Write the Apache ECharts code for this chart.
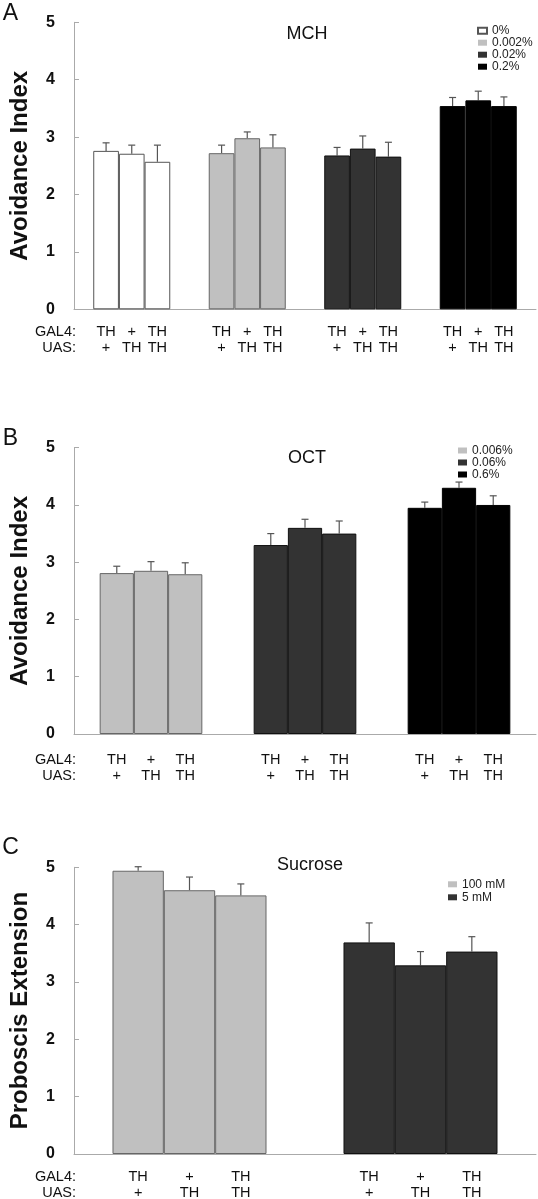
<!DOCTYPE html>
<html>
<head>
<meta charset="utf-8">
<script src="https://cdn.jsdelivr.net/npm/echarts@6/dist/echarts.min.js"></script>
<style>
html,body{margin:0;padding:0;background:#fff;}
#chart{width:538px;height:1199px;}
</style>
</head>
<body>
<div id="chart"></div>
<script>
// ---------- DATA ----------
const genotypeNames = ['TH>+', '+>TH', 'TH>TH'];
const genotypeLabels = ['TH\n+', '+\nTH', 'TH\nTH'];

// Panel A: MCH
const mchConc = ['0%', '0.002%', '0.02%', '0.2%'];
const mchMean = [
  [2.76, 2.72, 2.68, 3.54],
  [2.71, 2.98, 2.80, 3.64],
  [2.57, 2.82, 2.66, 3.54]
];
const mchSem = [
  [0.14, 0.14, 0.14, 0.15],
  [0.15, 0.11, 0.22, 0.16],
  [0.29, 0.22, 0.25, 0.16]
];

// Panel B: OCT
const octConc = ['0.006%', '0.06%', '0.6%'];
const octMean = [
  [2.81, 3.30, 3.95],
  [2.85, 3.60, 4.30],
  [2.79, 3.50, 4.00]
];
const octSem = [
  [0.12, 0.20, 0.10],
  [0.16, 0.15, 0.10],
  [0.20, 0.22, 0.16]
];

// Panel C: Sucrose
const sucConc = ['100 mM', '5 mM'];
const sucMean = [
  [4.94, 3.69],
  [4.60, 3.29],
  [4.51, 3.53]
];
const sucSem = [
  [0.07, 0.34],
  [0.23, 0.24],
  [0.20, 0.26]
];

const yTicks = [0, 1, 2, 3, 4, 5];

// ---------- STYLE ----------
const FONT = "'Liberation Sans', Arial, Helvetica, sans-serif";
const AXIS_COLOR = '#aaaaaa';
const FILL = { '0%': '#ffffff', '0.002%': '#c0c0c0', '0.02%': '#333333', '0.2%': '#000000',
  '0.006%': '#c0c0c0', '0.06%': '#333333', '0.6%': '#000000', '100 mM': '#c0c0c0', '5 mM': '#333333' };
const BORDER = { '#ffffff': '#555555', '#c0c0c0': '#666666', '#333333': '#111111', '#000000': '#000000' };

const grids = [
  { left: 74, right: 2, top: 22.3, height: 287 },
  { left: 74, right: 2, top: 447.7, height: 286.3 },
  { left: 74, right: 2, top: 867.3, height: 286.7 }
];

const panels = [
  { conc: mchConc, mean: mchMean, sem: mchSem, name: 'Avoidance Index', labelDist: 15 },
  { conc: octConc, mean: octMean, sem: octSem, name: 'Avoidance Index', labelDist: 18 },
  { conc: sucConc, mean: sucMean, sem: sucSem, name: 'Proboscis Extension', labelDist: 14.7 }
];

const xAxes = [], yAxes = [], series = [];

panels.forEach((p, gi) => {
  xAxes.push({
    type: 'category', gridIndex: gi, data: p.conc,
    axisLine: { lineStyle: { color: AXIS_COLOR, width: 1 } },
    axisTick: { inside: true, length: 5, lineStyle: { color: AXIS_COLOR } },
    axisLabel: { show: false },
    splitLine: { show: false }
  });
  yAxes.push({
    type: 'value', gridIndex: gi, min: yTicks[0], max: yTicks[yTicks.length - 1], interval: 1,
    name: p.name, nameLocation: 'middle', nameRotate: 90, nameGap: 41.5,
    nameTextStyle: { fontFamily: FONT, fontWeight: 'bold', fontSize: 24, color: '#111' },
    axisLine: { show: true, lineStyle: { color: AXIS_COLOR, width: 1 } },
    axisTick: { show: true, inside: true, length: 5, lineStyle: { color: AXIS_COLOR } },
    axisLabel: { fontFamily: FONT, fontWeight: 'bold', fontSize: 16, color: '#111', margin: 19 },
    splitLine: { show: false }
  });
});
// hidden x axes for legend-only series
panels.forEach((p, gi) => {
  xAxes.push({ type: 'category', gridIndex: gi, show: false, data: ['x'] });
});

panels.forEach((p, gi) => {
  for (let g = 0; g < 3; g++) {
    series.push({
      name: 'P' + gi + ' ' + genotypeNames[g],
      type: 'bar', xAxisIndex: gi, yAxisIndex: gi,
      barGap: '0%', barCategoryGap: '33.33%',
      z: 3,
      data: p.mean[g].map((v, i) => {
        const c = FILL[p.conc[i]];
        return { value: v, itemStyle: { color: c, borderColor: BORDER[c], borderWidth: 1 } };
      }),
      label: {
        show: true, position: 'bottom', distance: p.labelDist,
        formatter: () => genotypeLabels[g],
        fontFamily: FONT, fontSize: 14.5, lineHeight: 16, color: '#111', align: 'center'
      },
      emphasis: { disabled: true },
      animation: false
    });
    series.push({
      name: 'P' + gi + ' err ' + genotypeNames[g],
      type: 'custom', xAxisIndex: gi, yAxisIndex: gi, z: 2,
      encode: { x: 0, y: 1 },
      data: p.mean[g].map((v, i) => [i, v, p.sem[g][i]]),
      renderItem: (params, api) => {
        const cat = api.value(0), v = api.value(1), e = api.value(2);
        const band = api.size([1, 0])[0];
        const base = api.coord([cat, v]);
        const top = api.coord([cat, v + e]);
        const x = base[0] + (g - 1) * band * (2 / 9);
        const st = { stroke: '#555555', lineWidth: 1.2 };
        return {
          type: 'group',
          children: [
            { type: 'line', shape: { x1: x, y1: base[1], x2: x, y2: top[1] }, style: st },
            { type: 'line', shape: { x1: x - 3.5, y1: top[1], x2: x + 3.5, y2: top[1] }, style: st }
          ]
        };
      },
      animation: false
    });
  }
  // legend-only series
  p.conc.forEach(cn => {
    const c = FILL[cn];
    series.push({
      name: cn, type: 'bar', xAxisIndex: 3 + gi, yAxisIndex: gi, data: [],
      itemStyle: { color: c, borderColor: BORDER[c], borderWidth: c === '#ffffff' ? 1 : 0 }
    });
  });
});

const legendBase = {
  orient: 'vertical', icon: 'rect', itemWidth: 9, itemHeight: 6, itemGap: 0,
  selectedMode: false,
  textStyle: { fontFamily: FONT, fontSize: 12, color: '#222', padding: 0 }
};

const option = {
  backgroundColor: '#ffffff',
  animation: false,
  grid: grids,
  xAxis: xAxes,
  yAxis: yAxes,
  series: series,
  legend: [
    Object.assign({}, legendBase, { data: mchConc, left: 472, top: 19.7,
      textStyle: Object.assign({}, legendBase.textStyle, { lineHeight: 12 }) }),
    Object.assign({}, legendBase, { data: octConc, left: 453, top: 439.5,
      textStyle: Object.assign({}, legendBase.textStyle, { lineHeight: 11.3 }) }),
    Object.assign({}, legendBase, { data: sucConc, left: 443, top: 872.8,
      textStyle: Object.assign({}, legendBase.textStyle, { lineHeight: 13 }) })
  ],
  title: [
    { text: 'MCH', left: 302, top: 20, textAlign: 'center',
      textStyle: { fontFamily: FONT, fontSize: 18, fontWeight: 'normal', color: '#111' } },
    { text: 'OCT', left: 302, top: 444, textAlign: 'center',
      textStyle: { fontFamily: FONT, fontSize: 18, fontWeight: 'normal', color: '#111' } },
    { text: 'Sucrose', left: 305, top: 851, textAlign: 'center',
      textStyle: { fontFamily: FONT, fontSize: 18, fontWeight: 'normal', color: '#111' } }
  ],
  graphic: [
    { type: 'text', x: 10.5, y: 13.3, style: { text: 'A', font: '23px ' + FONT, fill: '#111', align: 'center', verticalAlign: 'middle' } },
    { type: 'text', x: 10.5, y: 438.3, style: { text: 'B', font: '23px ' + FONT, fill: '#111', align: 'center', verticalAlign: 'middle' } },
    { type: 'text', x: 10.5, y: 847.3, style: { text: 'C', font: '23px ' + FONT, fill: '#111', align: 'center', verticalAlign: 'middle' } },
    { type: 'text', x: 76, y: 332.3, style: { text: 'GAL4:', font: '14.5px ' + FONT, fill: '#111', align: 'right', verticalAlign: 'middle' } },
    { type: 'text', x: 76, y: 348.3, style: { text: 'UAS:', font: '14.5px ' + FONT, fill: '#111', align: 'right', verticalAlign: 'middle' } },
    { type: 'text', x: 76, y: 760, style: { text: 'GAL4:', font: '14.5px ' + FONT, fill: '#111', align: 'right', verticalAlign: 'middle' } },
    { type: 'text', x: 76, y: 776, style: { text: 'UAS:', font: '14.5px ' + FONT, fill: '#111', align: 'right', verticalAlign: 'middle' } },
    { type: 'text', x: 76, y: 1176.7, style: { text: 'GAL4:', font: '14.5px ' + FONT, fill: '#111', align: 'right', verticalAlign: 'middle' } },
    { type: 'text', x: 76, y: 1193.3, style: { text: 'UAS:', font: '14.5px ' + FONT, fill: '#111', align: 'right', verticalAlign: 'middle' } }
  ]
};

const chart = echarts.init(document.getElementById('chart'), null, { renderer: 'canvas' });
chart.setOption(option);
</script>
</body>
</html>
